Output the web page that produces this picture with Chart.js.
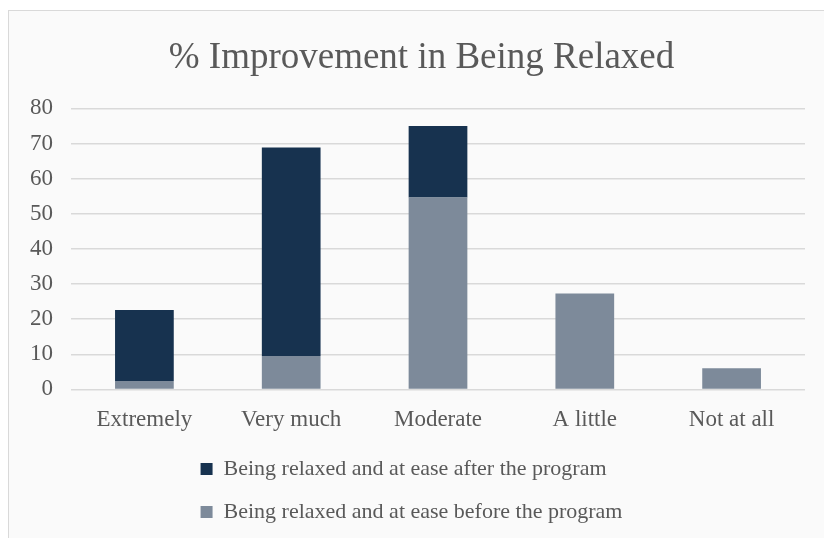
<!DOCTYPE html>
<html>
<head>
<meta charset="utf-8">
<script src="https://cdn.jsdelivr.net/npm/chart.js@4.4.0/dist/chart.umd.min.js"></script>
<style>
  html, body { margin: 0; padding: 0; background: #ffffff; }
  #frame {
    position: absolute; left: 8px; top: 10px; width: 830px; height: 540px;
    border: 1px solid #d9d9d9; background: #fafafa;
  }
  #wrap { position: absolute; left: 0; top: 0; width: 824px; height: 538px; }
</style>
</head>
<body>
<div id="frame"></div>
<div id="wrap"><canvas id="chart" width="824" height="538"></canvas></div>
<script>
  var categories = ["Extremely", "Very much", "Moderate", "A little", "Not at all"];
  var before_values = [2.4, 9.5, 54.6, 27.3, 6.0];
  var after_values = [20.2, 59.4, 20.4, 0, 0];
  var y_ticks = [0, 10, 20, 30, 40, 50, 60, 70, 80];

  var serif = "'Liberation Serif', 'Times New Roman', serif";
  var textColor = "#595959";

  // title sits a bit right of canvas centre; legend rows start at same x
  var shiftBlocks = {
    id: "shiftBlocks",
    afterLayout: function(chart) {
      if (chart.titleBlock) chart.titleBlock.left += 26;
      if (chart.legend) chart.legend.left += 6;
    },
    beforeDraw: function(chart) {
      var lg = chart.legend;
      if (lg && lg.lineWidths) {
        var w = Math.max.apply(null, lg.lineWidths);
        lg.lineWidths = lg.lineWidths.map(function() { return w; });
      }
    }
  };

  var ctx = document.getElementById("chart");
  var myChart = new Chart(ctx, {
    type: "bar",
    data: {
      labels: categories,
      datasets: [{
        label: "Being relaxed and at ease before the program",
        data: before_values,
        backgroundColor: "#7d8a9a",
        stack: "s"
      }, {
        label: "Being relaxed and at ease after the program",
        data: after_values,
        backgroundColor: "#17324f",
        stack: "s"
      }]
    },
    options: {
      responsive: false,
      animation: false,
      layout: { padding: { left: 12, right: 19, top: 36, bottom: 5 } },
      datasets: { bar: { barPercentage: 0.4, categoryPercentage: 1.0 } },
      plugins: {
        title: {
          display: true,
          text: "% Improvement in Being Relaxed",
          color: textColor,
          font: { family: serif, size: 37, weight: "normal" },
          padding: { top: 0, bottom: 28 }
        },
        legend: {
          position: "bottom",
          reverse: true,
          labels: {
            color: textColor,
            font: { family: serif, size: 22 },
            boxWidth: 12,
            boxHeight: 12,
            padding: 21
          }
        },
        tooltip: { enabled: false }
      },
      scales: {
        x: {
          stacked: true,
          grid: { display: false },
          border: { display: false },
          afterFit: function(axis) { axis.height -= 6; },
          ticks: { color: textColor, font: { family: serif, size: 23 }, padding: 9 }
        },
        y: {
          stacked: true,
          min: 0,
          max: 80,
          afterBuildTicks: function(axis) {
            axis.ticks = y_ticks.map(function(v) { return { value: v }; });
          },
          grid: { color: "#d9d9d9", lineWidth: 1.5, drawTicks: false },
          border: { display: false },
          ticks: { color: textColor, font: { family: serif, size: 23 }, padding: 18 }
        }
      }
    },
    plugins: [shiftBlocks]
  });
</script>
</body>
</html>
